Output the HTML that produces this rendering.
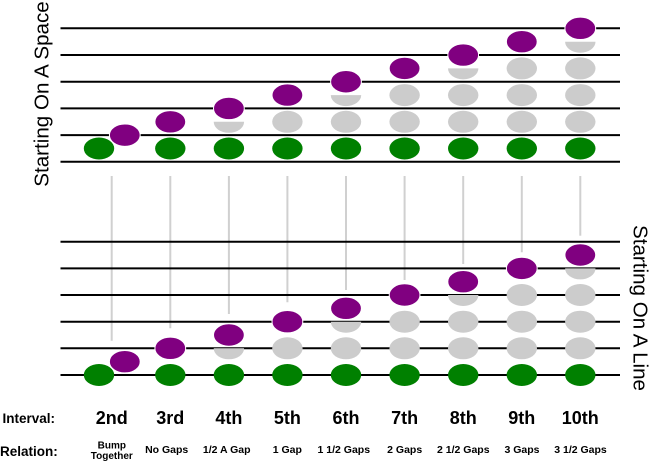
<!DOCTYPE html>
<html><head><meta charset="utf-8"><style>
html,body{margin:0;padding:0;background:#fff;}
svg{display:block;}
text{font-family:"Liberation Sans",Arial,sans-serif;}
</style></head><body>
<svg width="650" height="462" viewBox="0 0 650 462" xmlns="http://www.w3.org/2000/svg">
<!-- connector lines -->
<g stroke="#d0d0d0" stroke-width="2">
<line x1="111.7" y1="176" x2="111.7" y2="340.7"/>
<line x1="170.3" y1="176" x2="170.3" y2="328.3"/>
<line x1="228.9" y1="176" x2="228.9" y2="314"/>
<line x1="287.4" y1="176" x2="287.4" y2="302.3"/>
<line x1="346" y1="176" x2="346" y2="290"/>
<line x1="404.6" y1="176" x2="404.6" y2="280"/>
<line x1="463.2" y1="176" x2="463.2" y2="264"/>
<line x1="521.8" y1="176" x2="521.8" y2="252.3"/>
<line x1="580.3" y1="176" x2="580.3" y2="235.7"/>
</g>
<!-- staff lines -->
<g stroke="#000" stroke-width="2">
<line x1="60.5" y1="28.3" x2="620" y2="28.3"/>
<line x1="60.5" y1="55" x2="620" y2="55"/>
<line x1="60.5" y1="81.7" x2="620" y2="81.7"/>
<line x1="60.5" y1="108.4" x2="620" y2="108.4"/>
<line x1="60.5" y1="135.1" x2="620" y2="135.1"/>
<line x1="60.5" y1="161.8" x2="620" y2="161.8"/>
<line x1="60.5" y1="241.7" x2="620" y2="241.7"/>
<line x1="60.5" y1="268.4" x2="620" y2="268.4"/>
<line x1="60.5" y1="295" x2="620" y2="295"/>
<line x1="60.5" y1="321.7" x2="620" y2="321.7"/>
<line x1="60.5" y1="348.3" x2="620" y2="348.3"/>
<line x1="60.5" y1="375" x2="620" y2="375"/>
</g>
<g id="notes">
<!-- TOP STAFF -->
<ellipse cx="99" cy="148.5" rx="15.2" ry="11" fill="#008000"/>
<ellipse cx="124.8" cy="135.15" rx="15.4" ry="11.2" fill="#800080" stroke="#fff" stroke-width="1"/>
<ellipse cx="170.3" cy="148.5" rx="15.2" ry="11" fill="#008000"/>
<ellipse cx="170.3" cy="121.8" rx="15.4" ry="11.2" fill="#800080" stroke="#fff" stroke-width="1"/>
<ellipse cx="228.9" cy="148.5" rx="15.2" ry="11" fill="#008000"/>
<path d="M213.7,121.8 A15.2,11 0 0 0 244.1,121.8 Z" fill="#cccccc"/>
<ellipse cx="228.9" cy="108.45" rx="15.4" ry="11.2" fill="#800080" stroke="#fff" stroke-width="1"/>
<ellipse cx="287.4" cy="148.5" rx="15.2" ry="11" fill="#008000"/>
<ellipse cx="287.4" cy="121.8" rx="15.2" ry="11" fill="#cccccc"/>
<ellipse cx="287.4" cy="95.1" rx="15.4" ry="11.2" fill="#800080" stroke="#fff" stroke-width="1"/>
<ellipse cx="346" cy="148.5" rx="15.2" ry="11" fill="#008000"/>
<ellipse cx="346" cy="121.8" rx="15.2" ry="11" fill="#cccccc"/>
<path d="M330.8,95.1 A15.2,11 0 0 0 361.2,95.1 Z" fill="#cccccc"/>
<ellipse cx="346" cy="81.75" rx="15.4" ry="11.2" fill="#800080" stroke="#fff" stroke-width="1"/>
<ellipse cx="404.6" cy="148.5" rx="15.2" ry="11" fill="#008000"/>
<ellipse cx="404.6" cy="121.8" rx="15.2" ry="11" fill="#cccccc"/>
<ellipse cx="404.6" cy="95.1" rx="15.2" ry="11" fill="#cccccc"/>
<ellipse cx="404.6" cy="68.4" rx="15.4" ry="11.2" fill="#800080" stroke="#fff" stroke-width="1"/>
<ellipse cx="463.2" cy="148.5" rx="15.2" ry="11" fill="#008000"/>
<ellipse cx="463.2" cy="121.8" rx="15.2" ry="11" fill="#cccccc"/>
<ellipse cx="463.2" cy="95.1" rx="15.2" ry="11" fill="#cccccc"/>
<path d="M448,68.4 A15.2,11 0 0 0 478.4,68.4 Z" fill="#cccccc"/>
<ellipse cx="463.2" cy="55.05" rx="15.4" ry="11.2" fill="#800080" stroke="#fff" stroke-width="1"/>
<ellipse cx="521.8" cy="148.5" rx="15.2" ry="11" fill="#008000"/>
<ellipse cx="521.8" cy="121.8" rx="15.2" ry="11" fill="#cccccc"/>
<ellipse cx="521.8" cy="95.1" rx="15.2" ry="11" fill="#cccccc"/>
<ellipse cx="521.8" cy="68.4" rx="15.2" ry="11" fill="#cccccc"/>
<ellipse cx="521.8" cy="41.7" rx="15.4" ry="11.2" fill="#800080" stroke="#fff" stroke-width="1"/>
<ellipse cx="580.3" cy="148.5" rx="15.2" ry="11" fill="#008000"/>
<ellipse cx="580.3" cy="121.8" rx="15.2" ry="11" fill="#cccccc"/>
<ellipse cx="580.3" cy="95.1" rx="15.2" ry="11" fill="#cccccc"/>
<ellipse cx="580.3" cy="68.4" rx="15.2" ry="11" fill="#cccccc"/>
<path d="M565.1,41.7 A15.2,11 0 0 0 595.5,41.7 Z" fill="#cccccc"/>
<ellipse cx="580.3" cy="28.35" rx="15.4" ry="11.2" fill="#800080" stroke="#fff" stroke-width="1"/>

<!-- BOTTOM STAFF -->
<ellipse cx="99" cy="375" rx="15.2" ry="11" fill="#008000"/>
<ellipse cx="124.8" cy="361.7" rx="15.4" ry="11.2" fill="#800080" stroke="#fff" stroke-width="1"/>
<ellipse cx="170.3" cy="375" rx="15.2" ry="11" fill="#008000"/>
<ellipse cx="170.3" cy="348.3" rx="15.4" ry="11.2" fill="#800080" stroke="#fff" stroke-width="1"/>
<ellipse cx="228.9" cy="375" rx="15.2" ry="11" fill="#008000"/>
<path d="M213.7,348.3 A15.2,11 0 0 0 244.1,348.3 Z" fill="#cccccc"/>
<ellipse cx="228.9" cy="335" rx="15.4" ry="11.2" fill="#800080" stroke="#fff" stroke-width="1"/>
<ellipse cx="287.4" cy="375" rx="15.2" ry="11" fill="#008000"/>
<ellipse cx="287.4" cy="348.3" rx="15.2" ry="11" fill="#cccccc"/>
<ellipse cx="287.4" cy="321.7" rx="15.4" ry="11.2" fill="#800080" stroke="#fff" stroke-width="1"/>
<ellipse cx="346" cy="375" rx="15.2" ry="11" fill="#008000"/>
<ellipse cx="346" cy="348.3" rx="15.2" ry="11" fill="#cccccc"/>
<path d="M330.8,321.7 A15.2,11 0 0 0 361.2,321.7 Z" fill="#cccccc"/>
<ellipse cx="346" cy="308.35" rx="15.4" ry="11.2" fill="#800080" stroke="#fff" stroke-width="1"/>
<ellipse cx="404.6" cy="375" rx="15.2" ry="11" fill="#008000"/>
<ellipse cx="404.6" cy="348.3" rx="15.2" ry="11" fill="#cccccc"/>
<ellipse cx="404.6" cy="321.7" rx="15.2" ry="11" fill="#cccccc"/>
<ellipse cx="404.6" cy="295" rx="15.4" ry="11.2" fill="#800080" stroke="#fff" stroke-width="1"/>
<ellipse cx="463.2" cy="375" rx="15.2" ry="11" fill="#008000"/>
<ellipse cx="463.2" cy="348.3" rx="15.2" ry="11" fill="#cccccc"/>
<ellipse cx="463.2" cy="321.7" rx="15.2" ry="11" fill="#cccccc"/>
<path d="M448,295 A15.2,11 0 0 0 478.4,295 Z" fill="#cccccc"/>
<ellipse cx="463.2" cy="281.7" rx="15.4" ry="11.2" fill="#800080" stroke="#fff" stroke-width="1"/>
<ellipse cx="521.8" cy="375" rx="15.2" ry="11" fill="#008000"/>
<ellipse cx="521.8" cy="348.3" rx="15.2" ry="11" fill="#cccccc"/>
<ellipse cx="521.8" cy="321.7" rx="15.2" ry="11" fill="#cccccc"/>
<ellipse cx="521.8" cy="295" rx="15.2" ry="11" fill="#cccccc"/>
<ellipse cx="521.8" cy="268.4" rx="15.4" ry="11.2" fill="#800080" stroke="#fff" stroke-width="1"/>
<ellipse cx="580.3" cy="375" rx="15.2" ry="11" fill="#008000"/>
<ellipse cx="580.3" cy="348.3" rx="15.2" ry="11" fill="#cccccc"/>
<ellipse cx="580.3" cy="321.7" rx="15.2" ry="11" fill="#cccccc"/>
<ellipse cx="580.3" cy="295" rx="15.2" ry="11" fill="#cccccc"/>
<path d="M565.1,268.4 A15.2,11 0 0 0 595.5,268.4 Z" fill="#cccccc"/>
<ellipse cx="580.3" cy="255" rx="15.4" ry="11.2" fill="#800080" stroke="#fff" stroke-width="1"/>
</g>

<!-- side labels -->
<text transform="translate(48.3,94) rotate(-90)" text-anchor="middle" font-size="20.6" fill="#000">Starting On A Space</text>
<text transform="translate(633.5,308) rotate(90)" text-anchor="middle" font-size="20.6" fill="#000">Starting On A Line</text>

<!-- bottom labels -->
<text x="2.5" y="423" font-size="13.5" font-weight="bold">Interval:</text>
<text x="0" y="456" font-size="13.5" font-weight="bold">Relation:</text>
<g font-size="18" font-weight="bold" text-anchor="middle">
<text x="111.7" y="424">2nd</text>
<text x="170.3" y="424">3rd</text>
<text x="228.9" y="424">4th</text>
<text x="287.4" y="424">5th</text>
<text x="346" y="424">6th</text>
<text x="404.6" y="424">7th</text>
<text x="463.2" y="424">8th</text>
<text x="521.8" y="424">9th</text>
<text x="580.3" y="424">10th</text>
</g>
<g font-size="10.5" font-weight="bold" text-anchor="middle">
<text x="111.8" y="448.3" font-size="10">Bump</text>
<text x="111.8" y="459" font-size="10">Together</text>
<text x="166.7" y="453">No Gaps</text>
<text x="226.7" y="453">1/2 A Gap</text>
<text x="287.3" y="453">1 Gap</text>
<text x="343.8" y="453">1 1/2 Gaps</text>
<text x="404.7" y="453">2 Gaps</text>
<text x="463.3" y="453">2 1/2 Gaps</text>
<text x="522" y="453">3 Gaps</text>
<text x="580.5" y="453">3 1/2 Gaps</text>
</g>
</svg>
</body></html>
